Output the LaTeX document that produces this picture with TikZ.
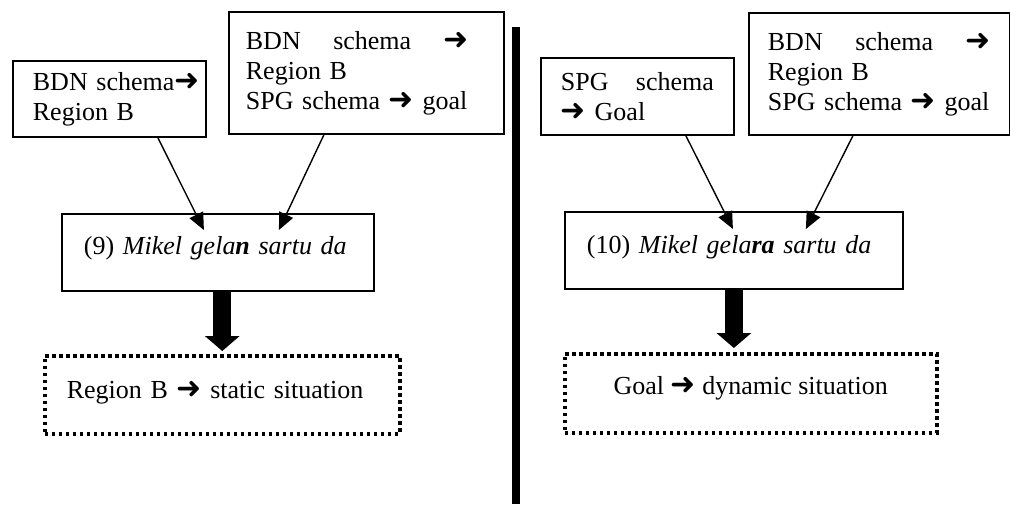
\documentclass[tikz,border=0pt]{standalone}
\usepackage{fontspec}
\setmainfont{Liberation Serif}
\newfontfamily\arrowfont{DejaVu Sans}
\usetikzlibrary{arrows.meta,calc}
\newcommand{\rarr}{{\arrowfont\fontsize{30}{30}\selectfont ➜}}

\tikzset{
  schemabox/.style={draw, line width=1.8pt, anchor=north west, inner xsep=20pt, inner ysep=0pt,
    align=left, font=\fontsize{26}{30}\selectfont},
  resultbox/.style={schemabox, line width=3.5pt, dash pattern=on 3.5pt off 3.5pt},
  thinarrow/.style={line width=1.4pt, -{Triangle[length=17pt,width=15pt]}},
  fatarrow/.style={line width=18pt, -{Triangle[length=15pt,width=34pt]}},
}

\begin{document}
\begin{tikzpicture}[x=1pt, y=-1pt]
    \useasboundingbox (0,0) rectangle (1010,504);

    % left: (9)
    \node[schemabox, text width=153pt, minimum height=76pt] (bdnL) at (12,60) {\mbox{BDN schema\rarr}\\Region B};
    \node[schemabox, inner xsep=17pt, text width=241pt, minimum height=122pt] (bothL) at (228,11)
        {\makebox[223pt][l]{BDN\hfill schema\hfill\rarr}\\Region B\\\mbox{SPG schema \rarr{} goal}};
    \node[schemabox, inner xsep=22pt, text width=268pt, text height=41pt, text depth=36pt] (exNine) at (61,213)
        {(9) \textit{Mikel gela\textbf{n} sartu da}};
    \node[resultbox, inner xsep=22pt, text width=311pt, text height=43pt, text depth=35pt] (static) at (43,354)
        {Region B \rarr{} static situation};

    \draw[thinarrow] ($(bdnL.south)+(48.5,0)$) -- ($(exNine.north)+(-14,17)$);
    \draw[thinarrow] ($(bothL.south)+(-42.5,0)$) -- ($(exNine.north)+(61,17)$);
    \draw[fatarrow] (exNine.south -| static.north) -- ($(static.north)+(0,-3)$);

    % separator
    \draw[line width=8pt] (516,27) -- (516,504);

    % right: (10)
    \node[schemabox, text width=153pt, minimum height=77pt] (spgR) at (540,57) {SPG\hfill schema\\\rarr{} Goal};
    \node[schemabox, inner xsep=19pt, text width=223pt, minimum height=122pt] (bothR) at (748,12)
        {\makebox[223pt][l]{BDN\hfill schema\hfill\rarr}\\Region B\\\mbox{SPG schema \rarr{} goal}};
    \node[schemabox, inner xsep=22pt, text width=294pt, text height=42pt, text depth=35pt] (exTen) at (564,211)
        {(10) \textit{Mikel gela\textbf{ra} sartu da}};
    \node[resultbox, align=center, minimum width=372pt, text height=41pt, text depth=38pt] (dynamic) at (563,352)
        {Goal \rarr{} dynamic situation};

    \draw[thinarrow] ($(spgR.south)+(48.5,0)$) -- ($(exTen.north)+(-1,18)$);
    \draw[thinarrow] ($(bothR.south)+(-26.5,0)$) -- ($(exTen.north)+(72,18)$);
    \draw[fatarrow] (exTen.south) -- ($(exTen.south |- dynamic.north)+(0,-4)$);
\end{tikzpicture}
\end{document}
